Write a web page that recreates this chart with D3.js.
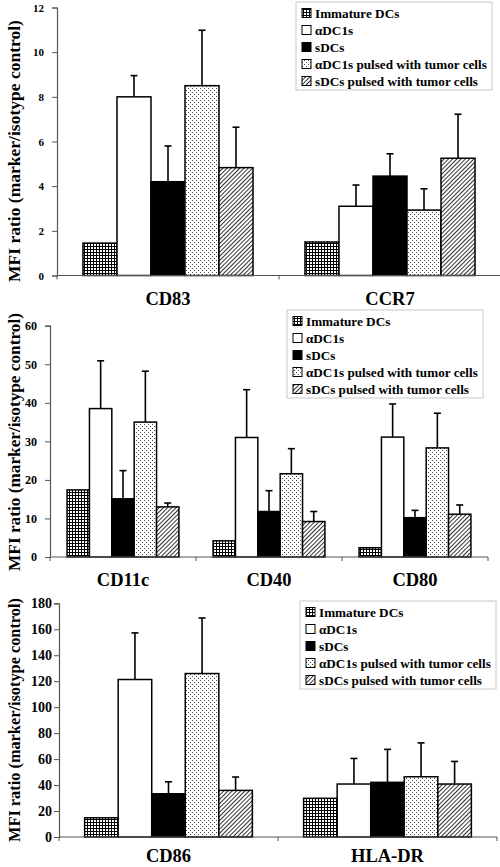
<!DOCTYPE html>
<html><head><meta charset="utf-8">
<script src="https://cdn.jsdelivr.net/npm/d3@7"></script>
<style>
html,body{margin:0;padding:0;background:#fff;}
svg{display:block;}
text{font-family:"Liberation Serif","Times New Roman",serif;font-weight:bold;fill:#000;}
</style></head>
<body>
<svg id="chart" width="500" height="867"></svg>
<script>
// ---------- DATA ----------
const seriesNames = ["Immature DCs","αDC1s","sDCs","αDC1s pulsed with tumor cells","sDCs pulsed with tumor cells"];
const yLabel = "MFI ratio (marker/isotype control)";

// Panel 1
const p1Categories = ["CD83","CCR7"];
const p1Ticks = [0,2,4,6,8,10,12];
const p1Immature = [1.45, 1.5];
const p1ADC1 = [8.0, 3.1];
const p1SDC = [4.2, 4.45];
const p1ADC1Pulsed = [8.5, 2.93];
const p1SDCPulsed = [4.83, 5.25];
const p1ADC1Err = [0.95, 0.95];
const p1SDCErr = [1.6, 1.0];
const p1ADC1PulsedErr = [2.48, 0.95];
const p1SDCPulsedErr = [1.81, 1.97];

// Panel 2
const p2Categories = ["CD11c","CD40","CD80"];
const p2Ticks = [0,10,20,30,40,50,60];
const p2Immature = [17.4, 4.2, 2.4];
const p2ADC1 = [38.5, 31.0, 31.1];
const p2SDC = [15.1, 11.8, 10.2];
const p2ADC1Pulsed = [35.0, 21.6, 28.3];
const p2SDCPulsed = [13.0, 9.2, 11.1];
const p2ADC1Err = [12.4, 12.4, 8.6];
const p2SDCErr = [7.3, 5.4, 1.9];
const p2ADC1PulsedErr = [13.2, 6.5, 9.0];
const p2SDCPulsedErr = [1.0, 2.6, 2.4];

// Panel 3
const p3Categories = ["CD86","HLA-DR"];
const p3Ticks = [0,20,40,60,80,100,120,140,160,180];
const p3Immature = [14.8, 29.8];
const p3ADC1 = [121.3, 40.8];
const p3SDC = [33.3, 42.1];
const p3ADC1Pulsed = [125.9, 46.4];
const p3SDCPulsed = [35.9, 40.8];
const p3ADC1Err = [35.9, 19.7];
const p3SDCErr = [9.2, 25.4];
const p3ADC1PulsedErr = [42.8, 26.1];
const p3SDCPulsedErr = [10.3, 17.4];

// ---------- DRAW ----------
const svg = d3.select("#chart");
const defs = svg.append("defs");

const pg = defs.append("pattern").attr("id","pat-grid").attr("patternUnits","userSpaceOnUse").attr("width",3).attr("height",3);
pg.append("rect").attr("width",3).attr("height",3).attr("fill","#000");
pg.append("rect").attr("x",1).attr("y",1).attr("width",2).attr("height",2).attr("fill","#fff");

const pd = defs.append("pattern").attr("id","pat-dots").attr("patternUnits","userSpaceOnUse").attr("width",4).attr("height",4);
pd.append("rect").attr("width",4).attr("height",4).attr("fill","#fff");
pd.append("rect").attr("x",0).attr("y",0).attr("width",1).attr("height",1).attr("fill","#444");
pd.append("rect").attr("x",2).attr("y",2).attr("width",1).attr("height",1).attr("fill","#444");

const ph = defs.append("pattern").attr("id","pat-hatch").attr("patternUnits","userSpaceOnUse").attr("width",3).attr("height",3).attr("patternTransform","rotate(45)");
ph.append("rect").attr("width",3).attr("height",3).attr("fill","#fff");
ph.append("rect").attr("width",1).attr("height",3).attr("fill","#333");

const fills = ["url(#pat-grid)","#fff","#000","url(#pat-dots)","url(#pat-hatch)"];

// scale a text's font size so that its rendered width equals target
function fitSize(text, base, target){
  const t = svg.append("text").attr("font-size", base).text(text);
  const w = t.node().getComputedTextLength();
  t.remove();
  return w > 0 ? base * target / w : base;
}
const legendFont = fitSize(seriesNames[3], 13, 172);

function drawPanel(cfg){
  const {categories, ticks, series, errors, left, right, yTop, y0, tickFont, tickPad, label, catOffset, legend} = cfg;
  const g = svg.append("g");
  const x0 = d3.scaleBand().domain(categories).range([left,right]).paddingInner(0.234).paddingOuter(0.117);
  const x1 = d3.scaleBand().domain(d3.range(series.length)).range([0, x0.bandwidth()]);
  const y = d3.scaleLinear().domain([0, d3.max(ticks)]).range([y0, yTop]);

  categories.forEach((c, ci) => {
    series.forEach((vals, si) => {
      const v = vals[ci];
      const bx = x0(c) + x1(si);
      g.append("rect")
        .attr("x", bx).attr("y", y(v))
        .attr("width", x1.bandwidth()).attr("height", y(0) - y(v))
        .attr("fill", fills[si]).attr("stroke","#000").attr("stroke-width",1.5);
      const e = errors[si] ? errors[si][ci] : null;
      if (e != null) {
        const cx = bx + x1.bandwidth()/2;
        g.append("line").attr("x1",cx).attr("x2",cx).attr("y1",y(v)).attr("y2",y(v+e))
          .attr("stroke","#000").attr("stroke-width",1.6);
        g.append("line").attr("x1",cx-3.5).attr("x2",cx+3.5).attr("y1",y(v+e)).attr("y2",y(v+e))
          .attr("stroke","#000").attr("stroke-width",1.6);
      }
    });
  });

  const ya = g.append("g").attr("transform",`translate(${left},0)`)
    .call(d3.axisLeft(y).tickValues(ticks).tickSize(5).tickPadding(tickPad).tickFormat(d3.format("d")));
  ya.select(".domain").attr("stroke","#555").attr("stroke-width",1.2);
  ya.selectAll(".tick line").attr("stroke","#555");
  ya.selectAll("text").attr("font-size",tickFont).attr("font-family","Liberation Serif").attr("font-weight","bold").attr("fill","#000");

  g.append("line").attr("x1",left).attr("x2",right).attr("y1",y(0)).attr("y2",y(0)).attr("stroke","#555").attr("stroke-width",1.2);
  const bounds = categories.map(c => x0(c) - x0.step()*0.117).concat([right]);
  bounds.forEach(b => g.append("line").attr("x1",b).attr("x2",b).attr("y1",y(0)).attr("y2",y(0)+4).attr("stroke","#555"));

  categories.forEach(c => {
    g.append("text").attr("x", x0(c)+x0.bandwidth()/2).attr("y", y(0)+catOffset)
      .attr("text-anchor","middle").attr("font-size",18.5).text(c);
  });

  const lf = fitSize(yLabel, 17, label.len);
  g.append("text").attr("transform",`translate(14,${label.cy}) rotate(-90)`)
    .attr("text-anchor","middle").attr("dominant-baseline","central")
    .attr("font-size",lf).text(yLabel);

  const lg = g.append("g");
  lg.append("rect").attr("x",legend.x).attr("y",legend.y).attr("width",196).attr("height",88)
    .attr("fill","#fff").attr("stroke","#c8c8c8").attr("stroke-width",1);
  seriesNames.forEach((n,i) => {
    const cy = legend.y + 11 + i*17;
    lg.append("rect").attr("x",legend.x+6).attr("y",cy-4.5).attr("width",9).attr("height",9)
      .attr("fill",fills[i]).attr("stroke","#000").attr("stroke-width",1);
    lg.append("text").attr("x",legend.x+19).attr("y",cy).attr("dominant-baseline","central")
      .attr("font-size",legendFont).text(n);
  });
}

drawPanel({categories:p1Categories, ticks:p1Ticks,
  series:[p1Immature,p1ADC1,p1SDC,p1ADC1Pulsed,p1SDCPulsed],
  errors:[null,p1ADC1Err,p1SDCErr,p1ADC1PulsedErr,p1SDCPulsedErr],
  left:57, right:501, yTop:7.5, y0:275.5, tickFont:11, tickPad:8, label:{cy:151,len:262}, catOffset:29, legend:{x:296,y:2}});

drawPanel({categories:p2Categories, ticks:p2Ticks,
  series:[p2Immature,p2ADC1,p2SDC,p2ADC1Pulsed,p2SDCPulsed],
  errors:[null,p2ADC1Err,p2SDCErr,p2ADC1PulsedErr,p2SDCPulsedErr],
  left:50, right:488, yTop:325.7, y0:557, tickFont:12, tickPad:8, label:{cy:442,len:258}, catOffset:29, legend:{x:287,y:310}});

drawPanel({categories:p3Categories, ticks:p3Ticks,
  series:[p3Immature,p3ADC1,p3SDC,p3ADC1Pulsed,p3SDCPulsed],
  errors:[null,p3ADC1Err,p3SDCErr,p3ADC1PulsedErr,p3SDCPulsedErr],
  left:59, right:497, yTop:603.3, y0:837, tickFont:14, tickPad:2, label:{cy:720,len:244}, catOffset:25, legend:{x:300,y:601}});
</script>
</body></html>
